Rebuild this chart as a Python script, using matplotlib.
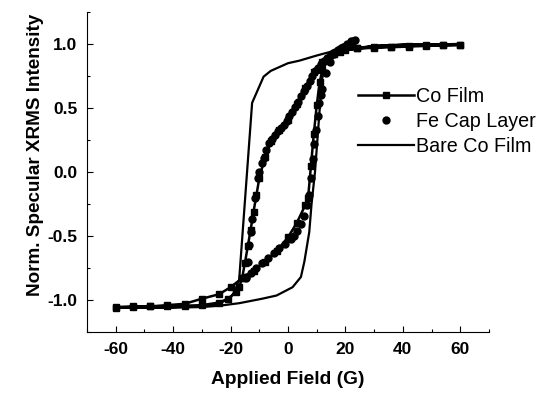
import matplotlib
matplotlib.use("Agg")
import matplotlib.pyplot as plt
from matplotlib.ticker import MultipleLocator

plt.rcParams['font.family'] = ['Liberation Sans', 'DejaVu Sans']

# Co film (squares + line), descending then ascending field
co_down_x = [60, 54, 48, 42, 36, 30, 24, 20, 16, 12, 9, 6, 3, 0, -3, -6, -8, -10, -11, -12,
             -13, -14, -15, -16, -17, -18, -21, -24, -30, -36, -42, -48, -54, -60]
co_down_y = [0.995, 0.99, 0.99, 0.985, 0.98, 0.975, 0.965, 0.95, 0.92, 0.86, 0.78, 0.66, 0.53,
             0.41, 0.33, 0.24, 0.12, -0.05, -0.18, -0.31, -0.45, -0.58, -0.71, -0.83, -0.9,
             -0.94, -0.99, -1.02, -1.04, -1.045, -1.05, -1.05, -1.055, -1.06]
co_up_x = [-60, -54, -48, -42, -36, -30, -24, -20, -16, -12, -8, -4, 0, 3, 6, 7, 8, 9, 10, 11,
           12, 14, 18, 24, 30, 36, 42, 48, 54, 60]
co_up_y = [-1.055, -1.05, -1.05, -1.04, -1.03, -0.99, -0.955, -0.9, -0.83, -0.77, -0.7, -0.62,
           -0.51, -0.4, -0.26, -0.2, 0.05, 0.3, 0.52, 0.7, 0.8, 0.88, 0.94, 0.965, 0.97, 0.975,
           0.98, 0.985, 0.99, 0.99]

# Fe cap layer (dots only)
fe_down_x = [23.5, 22.5, 21.5, 20.5, 19.5, 18.5, 17.5, 16.5, 15.5, 14.5, 13.5, 12.5, 11.5, 10.5,
             9.5, 8.5, 7.5, 6.5, 5.5, 4.5, 3.5, 2.5, 1.5, 0.5, -0.5, -1.5, -2.5, -3.5, -4.5,
             -5.5, -6.5, -7.5, -8.2, -9.0, -10.0, -10.6, -11.4, -12.5, -13.0, -13.5, -14.1, -14.6]
fe_down_y = [1.03, 1.02, 1.0, 0.99, 0.98, 0.965, 0.955, 0.94, 0.93, 0.91, 0.89, 0.865, 0.84,
             0.815, 0.79, 0.75, 0.71, 0.67, 0.63, 0.59, 0.55, 0.51, 0.47, 0.435, 0.40, 0.37,
             0.345, 0.32, 0.29, 0.26, 0.225, 0.17, 0.11, 0.07, 0.0, -0.05, -0.2, -0.37, -0.47,
             -0.57, -0.7, -0.82]
fe_up_x = [-14.6, -13, -11, -9, -7, -5, -3, -1, 1, 2.2, 3.3, 4.5, 5.7, 6.7, 7.4, 8.0, 8.6, 9.2,
           9.8, 10.4, 10.9, 11.5, 12.0, 13.2, 14.5, 16, 17.5, 19, 20.5, 22]
fe_up_y = [-0.83, -0.79, -0.75, -0.71, -0.67, -0.63, -0.59, -0.56, -0.52, -0.5, -0.46, -0.41,
           -0.34, -0.26, -0.18, -0.05, 0.1, 0.22, 0.33, 0.44, 0.54, 0.6, 0.65, 0.77, 0.86, 0.92,
           0.95, 0.98, 1.0, 1.02]

# Bare Co film (solid line), closed loop
bare_x = [60, 40, 30, 20, 15, 10, 4, 0, -3, -6, -8.5, -12.5, -17, -18.5, -20, -24, -30, -40, -60,
          -40, -30, -24, -17, -9, -4, 1.6, 4.5, 5.7, 7.4, 8.2, 9.4, 10.9, 11.8, 13, 16, 20, 30,
          40, 60]
bare_y = [1.0, 0.995, 0.985, 0.96, 0.94, 0.91, 0.87, 0.85, 0.82, 0.79, 0.745, 0.54, -0.84, -0.93,
          -0.98, -1.03, -1.05, -1.055, -1.06,
          -1.06, -1.055, -1.045, -1.025, -0.99, -0.965, -0.9, -0.82, -0.7, -0.47, -0.25, 0.0,
          0.45, 0.72, 0.84, 0.92, 0.955, 0.985, 0.995, 1.0]

x_ticks = [-60, -40, -20, 0, 20, 40, 60]
y_ticks = [-1.0, -0.5, 0.0, 0.5, 1.0]

fig = plt.figure(figsize=(5.48, 3.97), dpi=100)
ax = fig.add_axes([87/548, 65/397, 402/548, 320/397])

co_x = co_down_x + co_up_x
co_y = co_down_y + co_up_y
ax.plot(co_x, co_y, color='black', lw=1.8, marker='s', ms=4.8, label='Co Film')
ax.plot(fe_down_x + fe_up_x, fe_down_y + fe_up_y, ls='none', color='black', marker='o', ms=5,
        label='Fe Cap Layer')
ax.plot(bare_x, bare_y, color='black', lw=1.6, label='Bare Co Film')

ax.set_xlim(-70, 70)
ax.set_ylim(-1.25, 1.25)
ax.set_xticks(x_ticks)
ax.set_yticks(y_ticks)
ax.set_xticklabels([f"{v}" for v in x_ticks])
ax.set_yticklabels([f"{v:.1f}" for v in y_ticks])
ax.xaxis.set_minor_locator(MultipleLocator(10))
ax.yaxis.set_minor_locator(MultipleLocator(0.25))
ax.tick_params(which='both', direction='in', top=False, right=False, width=0.8, color='black')
ax.tick_params(which='major', length=4.5, pad=7, labelsize=12.5)
ax.tick_params(which='minor', length=2.5)
for lab in ax.get_xticklabels() + ax.get_yticklabels():
    lab.set_fontweight('bold')
for s in ['top', 'right']:
    ax.spines[s].set_visible(False)
for s in ['left', 'bottom']:
    ax.spines[s].set_linewidth(0.8)

ax.set_xlabel('Applied Field (G)', fontsize=13.8, fontweight='bold', labelpad=10)
ax.set_ylabel('Norm. Specular XRMS Intensity', fontsize=13.6, fontweight='bold')
ax.yaxis.set_label_coords(-0.107, 0.553)

leg = ax.legend(loc='upper left', bbox_to_anchor=(0.675, 0.765), frameon=False,
                fontsize=14.2, handlelength=2.8, handletextpad=0.1, labelspacing=0.3,
                borderpad=0, borderaxespad=0)

fig.savefig('out.png', dpi=100)
